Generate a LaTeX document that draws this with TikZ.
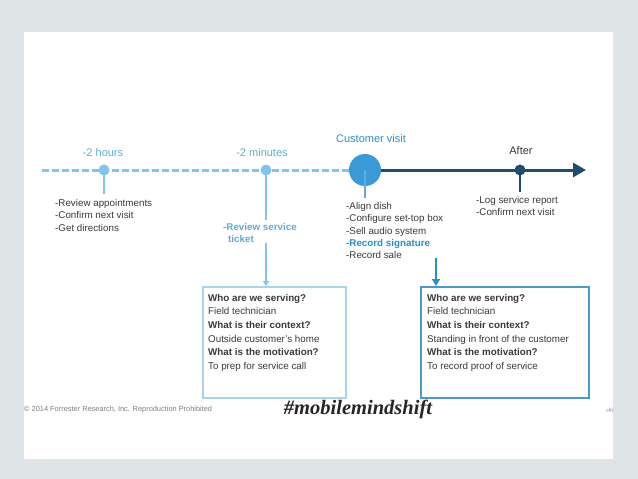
\documentclass[tikz,border=0pt]{standalone}
\usepackage{fontspec}
\setmainfont{Liberation Sans}
\newfontfamily\tagfont{Liberation Serif}
\usetikzlibrary{arrows.meta}
\definecolor{slidegray}{HTML}{DFE4E7}
\definecolor{dashblue}{HTML}{82C5E8}
\definecolor{visitblue}{HTML}{3B9AD5}
\definecolor{tickblue}{HTML}{5AAEE0}
\definecolor{navy}{HTML}{1F4D6B}
\definecolor{labelblue}{HTML}{5FAAD6}
\definecolor{strongblue}{HTML}{2B8FC6}
\definecolor{bodygray}{HTML}{3A3A3A}
\definecolor{paleblue}{HTML}{A9D4EC}
\definecolor{tealblue}{HTML}{4C9BC6}
\begin{document}
\begin{tikzpicture}[x=1pt,y=-1pt,
  steplabel/.style={font=\fontsize{11}{12}\selectfont, text=labelblue, inner sep=0},
  notes/.style={font=\fontsize{9.8}{12.4}\selectfont, text=bodygray, align=left, anchor=north west, inner sep=0},
  infotext/.style={font=\fontsize{9.8}{13.6}\selectfont, text=bodygray, align=left, anchor=north west, inner xsep=6pt, inner ysep=8pt},
  dot/.style={circle, inner sep=0, minimum size=11pt}]
\fill[slidegray] (0,0) rectangle (638,479);
\fill[white] (24,32) rectangle (613,459);

% timeline
\coordinate (start) at (42,170);
\coordinate (end) at (586,170);
\node[dot, fill=dashblue] (hours) at (104,170) {};
\node[dot, fill=dashblue] (minutes) at (266,170) {};
\node[circle, inner sep=0, minimum size=32pt, fill=visitblue] (visit) at (365,170) {};
\node[dot, fill=navy] (after) at (520,170) {};

\path[draw, dashblue, line width=3pt, dash pattern=on 7pt off 3pt] (start) -- (visit);
\path[draw, navy, line width=3pt, -{Triangle[length=13pt,width=14pt]}] (visit) -- (end);

\coordinate (hoursend) at (104,194);
\coordinate (minutesend) at (266,220);
\coordinate (visitend) at (365,198);
\coordinate (afterend) at (520,192);
\path[draw, dashblue, line width=2pt] (hours.center) -- (hoursend);
\path[draw, dashblue, line width=2pt] (minutes.center) -- (minutesend);
\path[draw, tickblue, line width=2pt] (visit.center) -- (visitend);
\path[draw, navy, line width=2pt] (after.center) -- (afterend);

% labels
\node[steplabel] (hourslabel) at (103,153) {-2 hours};
\node[steplabel] (minuteslabel) at (262,153) {-2 minutes};
\node[steplabel, text=strongblue] (visitlabel) at (371,139) {Customer visit};
\node[steplabel, text=bodygray] (afterlabel) at (521,151) {After};

% notes
\node[notes] (hoursnotes) at (55,199) {-Review appointments\\-Confirm next visit\\-Get directions};
\node[notes, text=labelblue, font=\bfseries\fontsize{9.8}{12.4}\selectfont] (ticket) at (223,223) {-Review service\\\hspace*{5pt}ticket};
\node[notes] (visitnotes) at (346,202) {-Align dish\\-Configure set-top box\\-Sell audio system\\\textcolor{strongblue}{\bfseries -Record signature}\\-Record sale};
\node[notes] (afternotes) at (476,196) {-Log service report\\-Confirm next visit};

% boxes
\node[draw=paleblue, line width=1.5pt, minimum width=143pt, minimum height=111pt, anchor=north west, inner sep=0] (box1) at (202,286) {};
\node[draw=tealblue, line width=1.5pt, minimum width=168pt, minimum height=111pt, anchor=north west, inner sep=0] (box2) at (420,286) {};
\node[infotext] (who1) at (box1.north west) {\textbf{Who are we serving?}\\Field technician\\\textbf{What is their context?}\\Outside customer's home\\\textbf{What is the motivation?}\\To prep for service call};
\node[infotext, inner xsep=7pt] (who2) at (box2.north west) {\textbf{Who are we serving?}\\Field technician\\\textbf{What is their context?}\\Standing in front of the customer\\\textbf{What is the motivation?}\\To record proof of service};

\coordinate (ticketarrow) at (266,243);
\coordinate (visitarrow) at (436,258);
\path[draw, dashblue, line width=1.5pt, -{Triangle[length=5pt,width=6pt]}] (ticketarrow) -- (ticketarrow |- box1.north);
\path[draw, strongblue, line width=2pt, -{Triangle[length=7pt,width=8pt]}] (visitarrow) -- (visitarrow |- box2.north);

% footer
\node[anchor=west, inner sep=0, font=\fontsize{7.4}{9}\selectfont, text=gray] (copyright) at (24,410) {© 2014 Forrester Research, Inc. Reproduction Prohibited};
\node[inner sep=0, font=\tagfont\bfseries\itshape\fontsize{20.5}{24}\selectfont, text=black!85] (hashtag) at (358,409) {\#mobilemindshift};
\begin{scope}
\clip (24,32) rectangle (613,459);
\node[anchor=west, inner sep=0, font=\fontsize{6.5}{8}\selectfont, text=gray] (pagenum) at (606,410) {‹\#›};
\end{scope}
\end{tikzpicture}
\end{document}
